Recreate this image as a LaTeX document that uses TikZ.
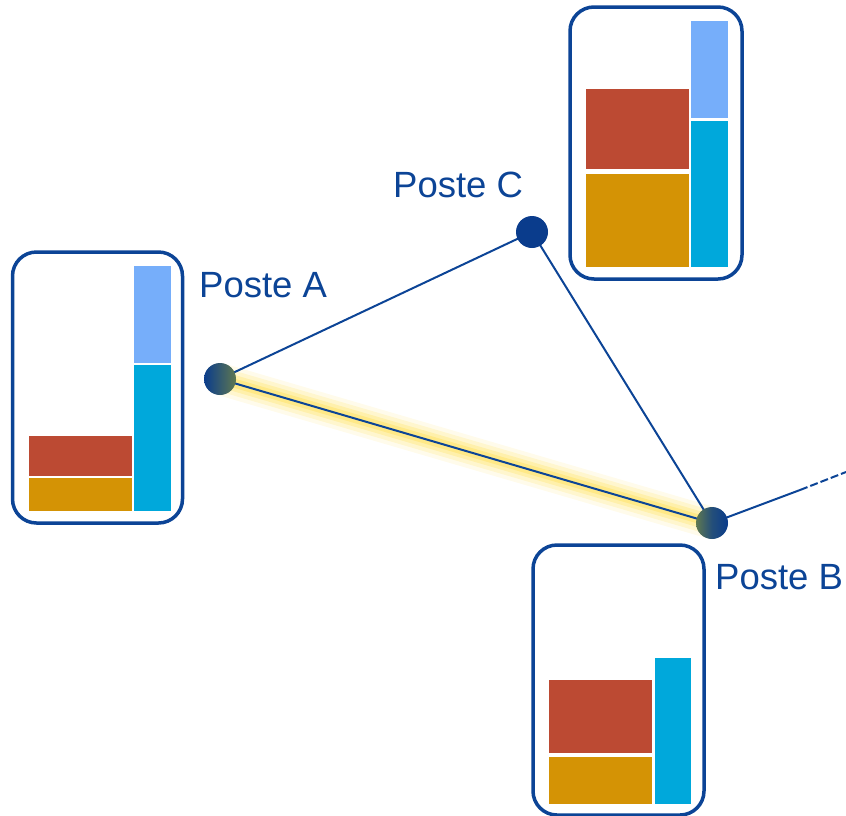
\documentclass[tikz,border=0pt]{standalone}
\usepackage{fontspec}
\setmainfont{Liberation Sans}
\definecolor{dblue}{RGB}{12,68,150}
\definecolor{nblue}{RGB}{10,60,140}
\definecolor{olive}{RGB}{95,120,80}
\definecolor{cred}{RGB}{188,74,51}
\definecolor{corange}{RGB}{212,147,5}
\definecolor{clight}{RGB}{118,174,250}
\definecolor{ccyan}{RGB}{0,168,219}
\definecolor{glow}{RGB}{255,225,90}
\begin{document}
\begin{tikzpicture}[x=1pt,y=-1pt,
  frame/.style={draw=dblue,line width=3.5pt,rounded corners=24pt,fill=white,inner sep=0pt},
  edge/.style={draw=dblue,line width=2pt},
  post/.style={circle,minimum size=32pt,inner sep=0pt},
  lbl/.style={text=dblue,font=\fontsize{36.5}{40}\selectfont,inner sep=0pt}]
\useasboundingbox (0,0) rectangle (846,815);
% frames
\node[frame,minimum width=170pt,minimum height=271pt] (fa) at (97.5,387.5) {};
\node[frame,minimum width=172pt,minimum height=272pt] (fc) at (656,143) {};
\node[frame,minimum width=171pt,minimum height=270pt] (fb) at (618.5,680) {};
% bars A
\fill[cred] (29,436) rectangle (132,476);
\fill[corange] (29,478) rectangle (132,511);
\fill[clight] (134,266) rectangle (171,363);
\fill[ccyan] (134,365) rectangle (171,511);
% bars C
\fill[cred] (586,89) rectangle (689,169);
\fill[corange] (586,174) rectangle (689,267);
\fill[clight] (691,21) rectangle (728,118);
\fill[ccyan] (691,121) rectangle (728,267);
% bars B
\fill[cred] (549,680) rectangle (652,753);
\fill[corange] (549,757) rectangle (652,804);
\fill[ccyan] (655,658) rectangle (691,804);
% nodes
\coordinate (Ap) at (220,379);
\coordinate (Bp) at (712,523);
\coordinate (Cp) at (532,232);
\coordinate (E) at (800,490);
\coordinate (F) at (846,472);
% glow
\draw[glow,line width=32pt,opacity=0.12,line cap=round] (Ap) -- (Bp);
\draw[glow,line width=24pt,opacity=0.2,line cap=round] (Ap) -- (Bp);
\draw[glow,line width=16pt,opacity=0.3,line cap=round] (Ap) -- (Bp);
\draw[glow,line width=9pt,opacity=0.45,line cap=round] (Ap) -- (Bp);
% edges
\draw[edge] (Ap) -- (Cp);
\draw[edge] (Cp) -- (Bp);
\draw[edge] (Ap) -- (Bp);
\draw[edge] (Bp) -- (E);
\draw[edge,dash pattern=on 8pt off 3pt] (E) -- (F);
\node[post,left color=nblue,right color=olive] (A) at (Ap) {};
\node[post,left color=olive,right color=nblue,middle color=nblue!70!olive] (B) at (Bp) {};
\node[post,fill=nblue] (C) at (Cp) {};
% labels
\node[lbl,anchor=base west] (la) at (199,297) {Poste A};
\node[lbl,anchor=base west] (lc) at (393,197) {Poste C};
\node[lbl,anchor=base west] (lb) at (715,589) {Poste B};
\end{tikzpicture}
\end{document}
